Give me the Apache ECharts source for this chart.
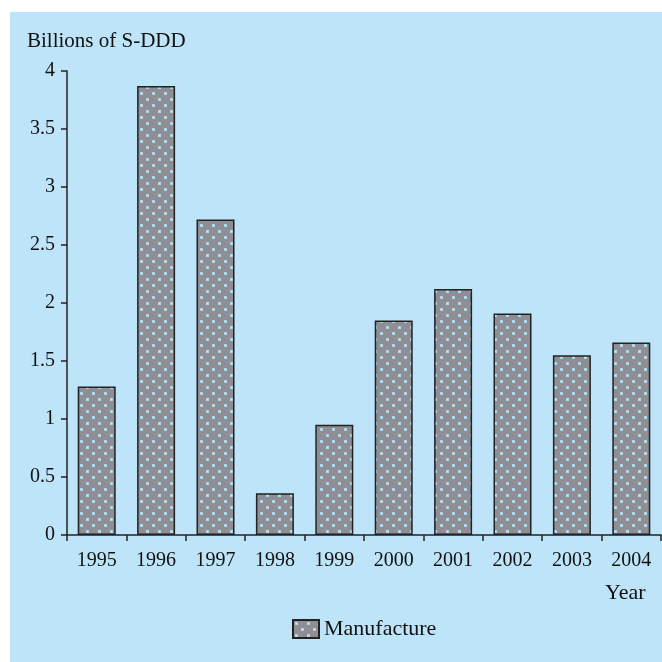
<!DOCTYPE html>
<html>
<head>
<meta charset="utf-8">
<script src="https://cdn.jsdelivr.net/npm/echarts@6/dist/echarts.min.js"></script>
<style>
html,body{margin:0;padding:0;background:#ffffff;}
#c{width:662px;height:662px;}
</style>
</head>
<body>
<div id="c"></div>
<script>
const years = ['1995','1996','1997','1998','1999','2000','2001','2002','2003','2004'];
const manufacture = [1.28, 3.87, 2.72, 0.36, 0.95, 1.85, 2.12, 1.91, 1.55, 1.66];
const yTicks = { min: 0, max: 4, interval: 0.5 };
const seriesName = 'Manufacture';
const yTitle = 'Billions of S-DDD';
const xTitle = 'Year';

function makePattern() {
  const c = document.createElement('canvas');
  c.width = 12; c.height = 12;
  const g = c.getContext('2d');
  g.fillStyle = '#8f8e94';
  g.fillRect(0, 0, 12, 12);
  g.fillStyle = '#a9d4ea';
  g.fillRect(2, 2, 3, 3);
  g.fillRect(8, 8, 3, 3);
  g.fillStyle = '#c6e9fb';
  g.fillRect(3, 3, 1, 1);
  g.fillRect(9, 9, 1, 1);
  return c;
}
const pat = makePattern();
const fontFam = '"Liberation Serif", "DejaVu Serif", serif';

const chart = echarts.init(document.getElementById('c'), null, { renderer: 'canvas' });
chart.setOption({
  backgroundColor: 'transparent',
  animation: false,
  textStyle: { fontFamily: fontFam },
  graphic: [
    { type: 'rect', z: -10, silent: true, shape: { x: 10, y: 12, width: 652, height: 650 }, style: { fill: '#bde4f8' } },
    { type: 'text', left: 27, top: 31, style: { text: yTitle, font: '21px ' + fontFam, fill: '#111' } },
    { type: 'text', left: 605, top: 582, style: { text: xTitle, font: '22px ' + fontFam, fill: '#111' } }
  ],
  grid: { left: 67, right: 1, top: 71, bottom: 127, containLabel: false },
  legend: {
    bottom: 17,
    left: 287,
    itemWidth: 26,
    itemHeight: 18,
    itemGap: 8,
    textStyle: { fontSize: 22, fontFamily: fontFam, color: '#111' },
    data: [{ name: seriesName, icon: 'rect' }]
  },
  xAxis: {
    type: 'category',
    data: years,
    axisLine: { lineStyle: { color: '#222', width: 1.5 } },
    axisTick: { show: true, length: 6, inside: false, alignWithLabel: false, lineStyle: { color: '#222', width: 1.5 } },
    axisLabel: { fontSize: 20, color: '#111', fontFamily: fontFam, margin: 16 },
    splitLine: { show: false }
  },
  yAxis: {
    type: 'value',
    min: yTicks.min, max: yTicks.max, interval: yTicks.interval,
    axisLine: { show: true, lineStyle: { color: '#222', width: 1.5 } },
    axisTick: { show: true, length: 6, lineStyle: { color: '#222', width: 1.5 } },
    axisLabel: { fontSize: 20, color: '#111', fontFamily: fontFam, margin: 12 },
    splitLine: { show: false }
  },
  series: [{
    name: seriesName,
    type: 'bar',
    data: manufacture,
    barWidth: 38,
    itemStyle: {
      color: { image: pat, repeat: 'repeat' },
      borderColor: '#222',
      borderWidth: 1.5
    }
  }]
});
</script>
</body>
</html>
